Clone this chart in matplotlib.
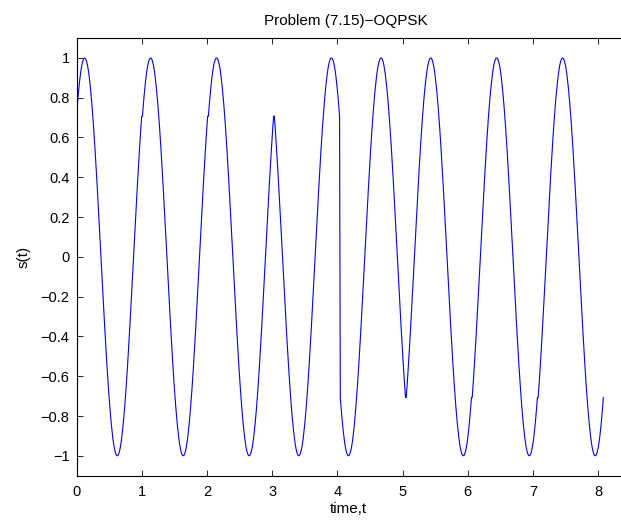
import numpy as np
import matplotlib
matplotlib.use("Agg")
import matplotlib.pyplot as plt

# Carrier phase of each symbol interval, in units of pi/4
symbol_phases_quarter_pi = [-1, -1, -1, 1, 3, -3, -3, -3]
carrier_freq = 1.0          # one carrier cycle per symbol
samples_per_symbol = 88     # each symbol segment sampled 0..1 inclusive
x_ticks = [0, 1, 2, 3, 4, 5, 6, 7, 8]
y_ticks = [-1, -0.8, -0.6, -0.4, -0.2, 0, 0.2, 0.4, 0.6, 0.8, 1]
y_tick_labels = ["\u22121", "\u22120.8", "\u22120.6", "\u22120.4", "\u22120.2", "0",
                 "0.2", "0.4", "0.6", "0.8", "1"]

# Build the waveform segment by segment (each segment includes both endpoints,
# concatenated and plotted against a uniform time axis)
tloc = np.linspace(0, 1, samples_per_symbol + 1)
segs = [np.cos(2 * np.pi * carrier_freq * tloc + p * np.pi / 4) for p in symbol_phases_quarter_pi]
s = np.concatenate(segs)
t = np.arange(len(s)) / samples_per_symbol

plt.rcParams['font.family'] = ['Liberation Sans', 'DejaVu Sans']
fig = plt.figure(figsize=(6.21, 5.21), dpi=100)
ax = fig.add_axes([76.5 / 621, 1 - 475.7 / 521, 1 - 76.5 / 621, (475.7 - 38) / 521])
ax.plot(t, s, color=(0, 0, 1), lw=0.8)
ax.set_xlim(0, 8.35)
ax.set_ylim(-1.1, 1.1)
ax.set_xticks(x_ticks)
ax.set_yticks(y_ticks)
ax.set_yticklabels(y_tick_labels)
ax.tick_params(direction='in', length=4, width=0.6, top=True, right=False, labelsize=10.5)
ax.tick_params(axis='x', pad=7)
ax.tick_params(axis='y', pad=5)
for side in ['left', 'bottom', 'top']:
    ax.spines[side].set_linewidth(0.8)
ax.spines['right'].set_visible(False)
ax.set_title("Problem (7.15)\u2212OQPSK", fontsize=11, pad=9, x=(346 - 76.5) / (621 - 76.5))
ax.set_xlabel("time,t", fontsize=11, labelpad=2)
ax.set_ylabel("s(t)", fontsize=11, labelpad=7)
fig.savefig("out.png", dpi=100)
